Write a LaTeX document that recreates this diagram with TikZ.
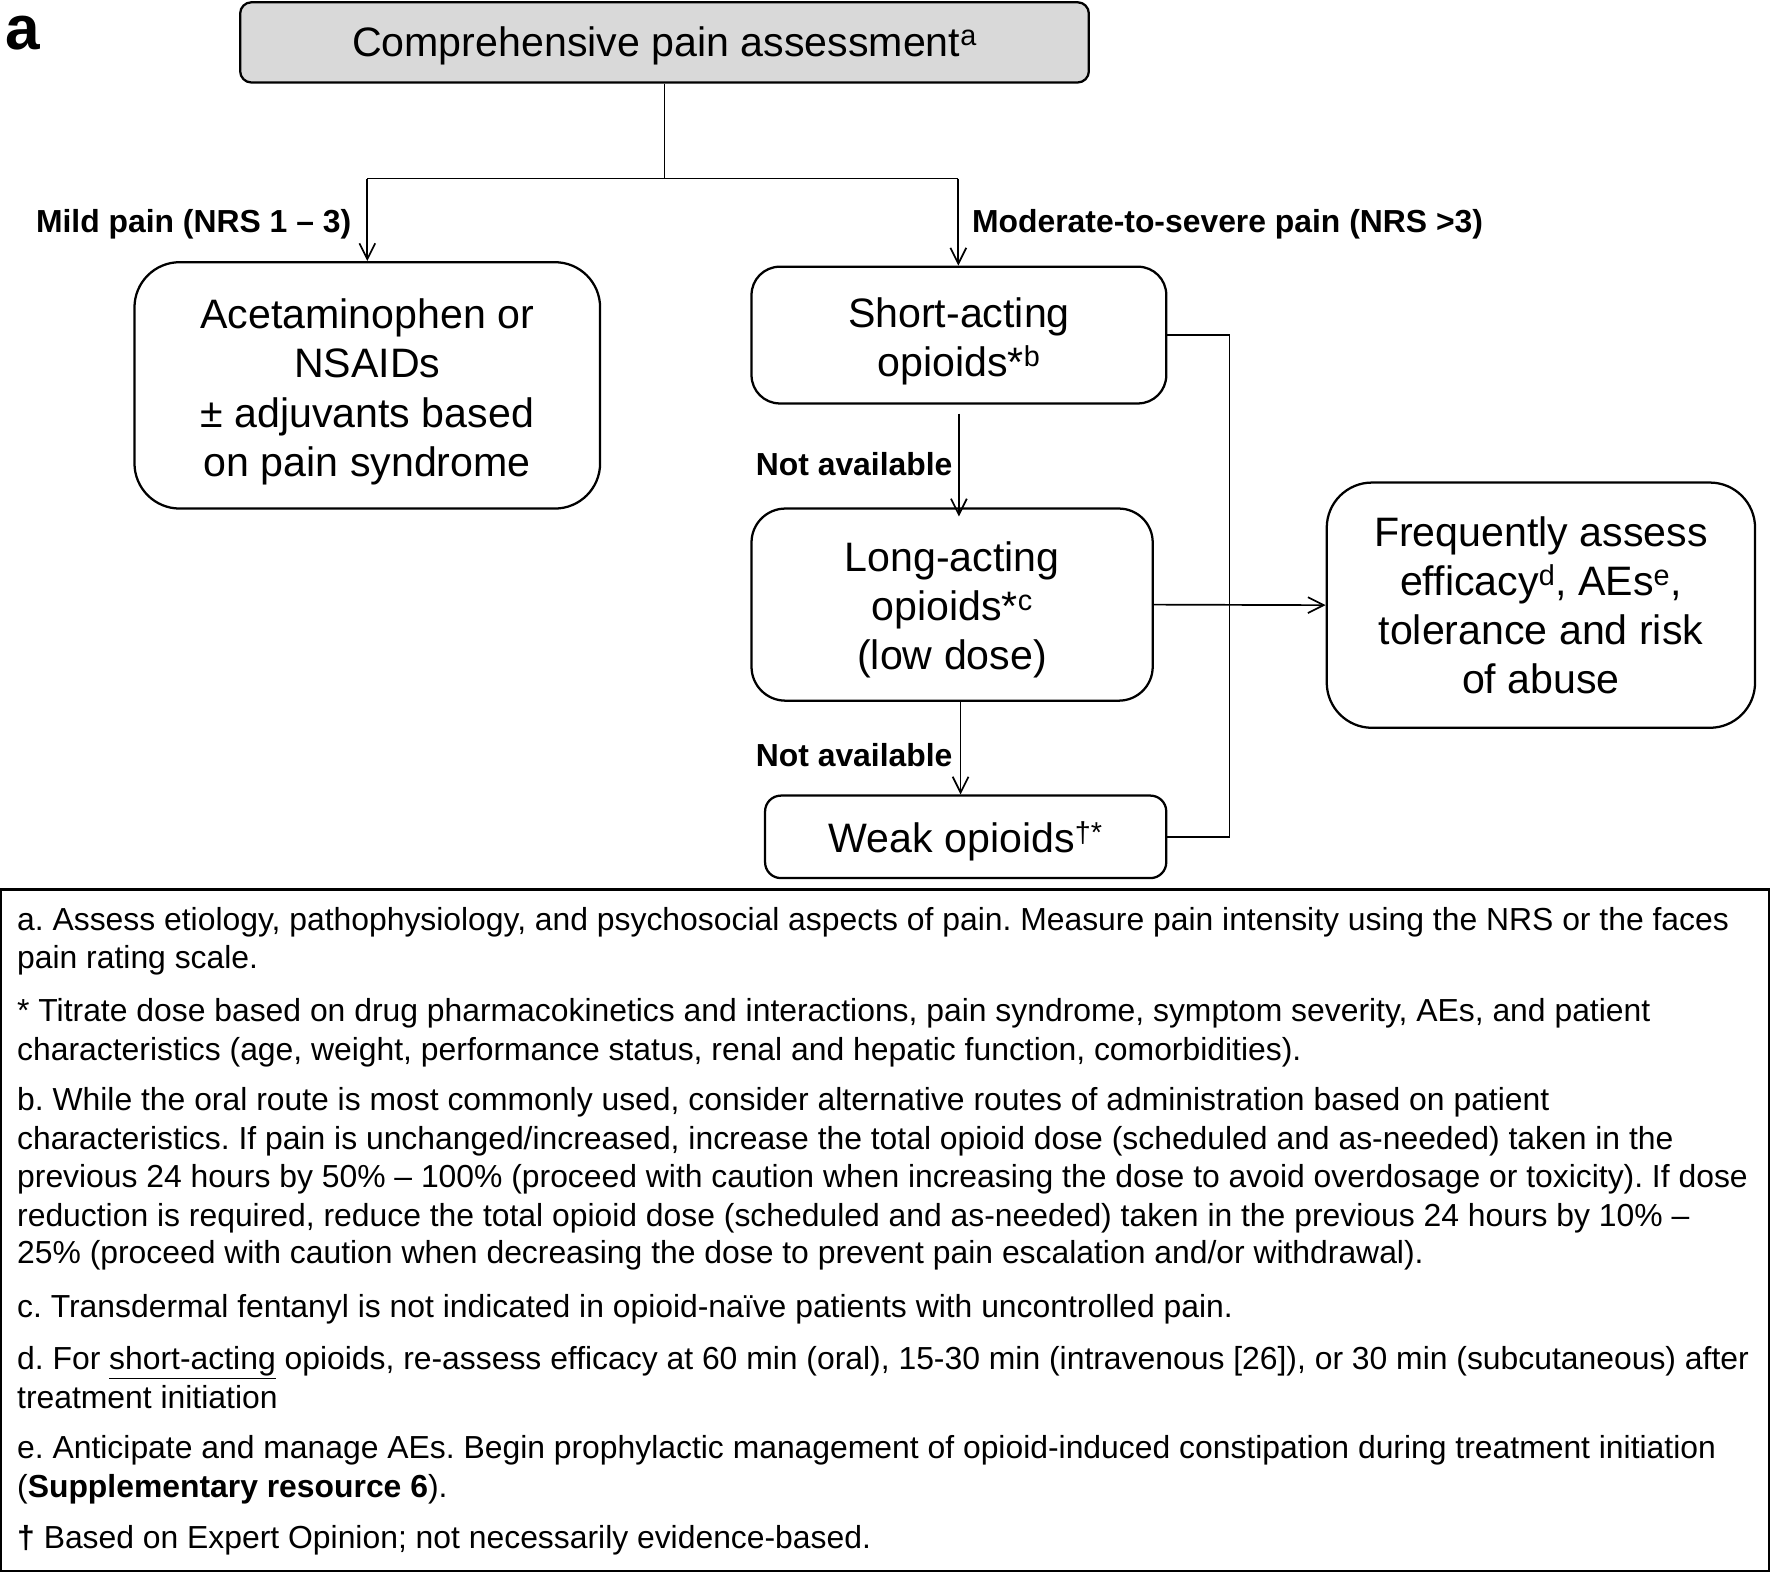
\documentclass[tikz,border=0pt]{standalone}
\usepackage{fontspec}
\setmainfont{Liberation Sans}
\usetikzlibrary{arrows.meta}
\frenchspacing
\newcommand{\lift}[1]{\rule{0pt}{#1}}
\begin{document}
\begin{tikzpicture}[x=1pt,y=-1pt,
  box/.style={draw, line width=2pt, rounded corners=#1, align=center, inner sep=0pt,
    font=\fontsize{36.4}{43.5}\selectfont},
  box/.default=20pt,
  ln/.style={line width=1.5pt},
  arr/.style={line width=1.5pt, -{Straight Barb[length=14pt,width=14pt,line width=1.5pt]}},
  lbl/.style={font=\bfseries\fontsize{28.2}{34}\selectfont, inner sep=0pt},
  fn/.style={anchor=base west, inner sep=0pt, font=\fontsize{28.2}{34}\selectfont}]
\useasboundingbox (0,0) rectangle (1568,1392);

\node[anchor=base west, inner sep=0pt, font=\bfseries\fontsize{55}{60}\selectfont] (panel) at (5,44) {a};

\node[box=10pt, fill=black!15, minimum width=751pt, minimum height=71pt] (top) at (588,37.5)
  {\lift{32pt}Comprehensive pain assessment\textsuperscript{a}};
\node[box=40pt, minimum width=412pt, minimum height=218pt] (acet) at (325,341)
  {\lift{38pt}Acetaminophen or\\NSAIDs\\± adjuvants based\\on pain syndrome};
\node[box=25pt, minimum width=367pt, minimum height=121pt] (short) at (848.5,296.5)
  {\lift{37pt}Short-acting\\opioids*\textsuperscript{b}};
\node[box=30pt, minimum width=355pt, minimum height=170pt] (long) at (842.5,535)
  {\lift{36pt}Long-acting\\opioids*\textsuperscript{c}\\(low dose)};
\node[box=14pt, minimum width=355pt, minimum height=73pt] (weak) at (854.5,740.5)
  {\lift{35pt}Weak opioids\textsuperscript{†*}};
\node[box=40pt, minimum width=379pt, minimum height=217pt] (freq) at (1363.5,535.5)
  {Frequently assess\\efficacy\textsuperscript{d}, AEs\textsuperscript{e},\\tolerance and risk\\of abuse};

% connectors
\coordinate (split) at (588,158);
\coordinate (jl) at (325,158);
\coordinate (jr) at (848,158);
\draw[ln] (top.south) -- (split);
\draw[ln] (jl) -- (jr);
\draw[arr] (jl) -- (acet.north);
\draw[arr] (jr) -- (jr |- short.north);
\draw[arr] ([yshift=-8pt]short.south) -- ([yshift=-8pt]short.south |- long.north);
\draw[arr] ([xshift=7.5pt]long.south) -- ([xshift=-4.5pt]weak.north);
\draw[ln] (short.east) -- ++(55,0) coordinate (bt);
\draw[ln] (weak.east) -- ++(55,0) coordinate (bb);
\draw[ln] (bt) -- (bb);
\draw[arr] (long.east) -- (freq.west);

\node[lbl, anchor=east] (lmild) at (311,198) {Mild pain (NRS 1 – 3)};
\node[lbl, anchor=west] (lmod) at (860,198) {Moderate-to-severe pain (NRS >3)};
\node[lbl, anchor=east] (lna1) at (843,411) {Not available};
\node[lbl, anchor=east] (lna2) at (843,668) {Not available};

% footnotes
\draw[line width=2pt] (1,787) rectangle (1565,1390);
\node[fn] (f1) at (15,823) {a. Assess etiology, pathophysiology, and psychosocial aspects of pain. Measure pain intensity using the NRS or the faces};
\node[fn] (f2) at (15,857) {pain rating scale.};
\node[fn] (f3) at (15,904) {* Titrate dose based on drug pharmacokinetics and interactions, pain syndrome, symptom severity, AEs, and patient};
\node[fn] (f4) at (15,938) {characteristics (age, weight, performance status, renal and hepatic function, comorbidities).};
\node[fn] (f5) at (15,983) {b. While the oral route is most commonly used, consider alternative routes of administration based on patient};
\node[fn] (f6) at (15,1017) {characteristics. If pain is unchanged/increased, increase the total opioid dose (scheduled and as-needed) taken in the};
\node[fn] (f7) at (15,1051) {previous 24 hours by 50\% – 100\% (proceed with caution when increasing the dose to avoid overdosage or toxicity). If dose};
\node[fn] (f8) at (15,1085) {reduction is required, reduce the total opioid dose (scheduled and as-needed) taken in the previous 24 hours by 10\% –};
\node[fn] (f9) at (15,1118) {25\% (proceed with caution when decreasing the dose to prevent pain escalation and/or withdrawal).};
\node[fn] (f10) at (15,1166) {c. Transdermal fentanyl is not indicated in opioid-naïve patients with uncontrolled pain.};
\node[fn] (f11) at (15,1212) {d. For \underline{short-acting} opioids, re-assess efficacy at 60 min (oral), 15-30 min (intravenous [26]), or 30 min (subcutaneous) after};
\node[fn] (f12) at (15,1246) {treatment initiation};
\node[fn] (f13) at (15,1291) {e. Anticipate and manage AEs. Begin prophylactic management of opioid-induced constipation during treatment initiation};
\node[fn] (f14) at (15,1325) {(\textbf{Supplementary resource 6}).};
\node[fn] (f15) at (15,1370) {\textbf{†} Based on Expert Opinion; not necessarily evidence-based.};
\end{tikzpicture}
\end{document}
